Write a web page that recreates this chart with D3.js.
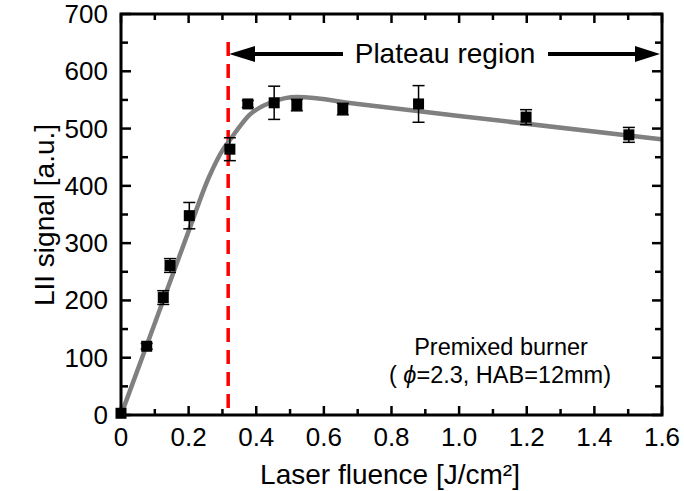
<!DOCTYPE html>
<html>
<head>
<meta charset="utf-8">
<script src="https://cdn.jsdelivr.net/npm/d3@7"></script>
<style>
  body { margin: 0; background: #fff; }
  svg { font-family: "Liberation Sans", Arial, sans-serif; }
</style>
</head>
<body>
<svg id="chart" width="684" height="491"></svg>
<script>
// measured points (fluence, signal, error)
const fluence = [0.0, 0.076, 0.125, 0.145, 0.202, 0.322, 0.375, 0.453, 0.52, 0.656, 0.88, 1.198, 1.502];
const signal  = [3, 120, 205, 261, 348, 464, 543, 545, 541, 534, 543, 520, 489];
const errBar  = [0, 5, 12, 12, 23, 20, 6, 29, 10, 10, 32, 13, 13];

// grey fit curve knots
const fitX = [0, 0.1, 0.2, 0.26, 0.3, 0.322, 0.38, 0.45, 0.52, 0.7, 1.0, 1.6];
const fitY = [0, 160, 321, 415, 462, 480, 524, 547, 555, 543, 522, 481];

const xTickVals = [0, 0.2, 0.4, 0.6, 0.8, 1.0, 1.2, 1.4, 1.6];
const xTickLabels = ["0", "0.2", "0.4", "0.6", "0.8", "1.0", "1.2", "1.4", "1.6"];
const yTickVals = [0, 100, 200, 300, 400, 500, 600, 700];
const plateauStart = 0.317;

const svg = d3.select("#chart");
const m = { left: 121, top: 14, right: 662, bottom: 415 };

const x = d3.scaleLinear().domain([0, 1.6]).range([m.left, m.right]);
const y = d3.scaleLinear().domain([0, 700]).range([m.bottom, m.top]);

const minorX = d3.range(0, 1.61, 0.1).map(v => +v.toFixed(2));
const minorY = d3.range(0, 701, 50);

// ticks on all four sides, pointing inward
const tickG = svg.append("g").attr("stroke", "#000").attr("stroke-width", 2.5);
minorX.forEach(v => {
    const len = xTickVals.some(t => Math.abs(t - v) < 1e-6) ? 9 : 6;
    tickG.append("line").attr("x1", x(v)).attr("x2", x(v)).attr("y1", m.bottom).attr("y2", m.bottom - len);
    tickG.append("line").attr("x1", x(v)).attr("x2", x(v)).attr("y1", m.top).attr("y2", m.top + len);
});
minorY.forEach(v => {
    const len = v % 100 === 0 ? 10 : 7;
    tickG.append("line").attr("x1", m.left).attr("x2", m.left + len).attr("y1", y(v)).attr("y2", y(v));
    tickG.append("line").attr("x1", m.right).attr("x2", m.right - len).attr("y1", y(v)).attr("y2", y(v));
});

// red dashed line marking plateau start
svg.append("line")
    .attr("x1", x(plateauStart)).attr("x2", x(plateauStart))
    .attr("y1", 42).attr("y2", m.bottom)
    .attr("stroke", "#ff0000")
    .attr("stroke-width", 3.5)
    .attr("stroke-dasharray", "14,8");

// fit curve
const fitData = fitX.map((v, i) => [v, fitY[i]]);
svg.append("path")
    .datum(fitData)
    .attr("fill", "none")
    .attr("stroke", "#808080")
    .attr("stroke-width", 4.5)
    .attr("d", d3.line().x(d => x(d[0])).y(d => y(d[1])).curve(d3.curveMonotoneX));

// error bars
const pts = fluence.map((f, i) => ({ f: f, s: signal[i], e: errBar[i] }));
const eb = svg.append("g").attr("stroke", "#000").attr("stroke-width", 1.5);
pts.filter(d => d.e > 0).forEach(d => {
    eb.append("line").attr("x1", x(d.f)).attr("x2", x(d.f)).attr("y1", y(d.s - d.e)).attr("y2", y(d.s + d.e));
    [d.s - d.e, d.s + d.e].forEach(v => {
        eb.append("line").attr("x1", x(d.f) - 6).attr("x2", x(d.f) + 6).attr("y1", y(v)).attr("y2", y(v));
    });
});

// square markers
svg.append("g").selectAll("rect")
    .data(pts)
    .enter().append("rect")
    .attr("x", d => x(d.f) - 5.5)
    .attr("y", d => y(d.s) - 5.5)
    .attr("width", 11)
    .attr("height", 11)
    .attr("fill", "#000");

// frame
svg.append("rect")
    .attr("x", m.left).attr("y", m.top)
    .attr("width", m.right - m.left).attr("height", m.bottom - m.top)
    .attr("fill", "none").attr("stroke", "#000").attr("stroke-width", 3);

// tick labels
svg.append("g").selectAll("text")
    .data(xTickVals)
    .enter().append("text")
    .attr("x", d => x(d))
    .attr("y", 446)
    .attr("text-anchor", "middle")
    .attr("font-size", 26)
    .text((d, i) => xTickLabels[i]);

svg.append("g").selectAll("text")
    .data(yTickVals)
    .enter().append("text")
    .attr("x", 108)
    .attr("y", d => y(d) + 9)
    .attr("text-anchor", "end")
    .attr("font-size", 26)
    .text(d => d);

// axis titles
svg.append("text")
    .attr("x", 390).attr("y", 484)
    .attr("text-anchor", "middle")
    .attr("font-size", 28)
    .text("Laser fluence [J/cm²]");

svg.append("text")
    .attr("transform", "translate(54,215) rotate(-90)")
    .attr("text-anchor", "middle")
    .attr("font-size", 28)
    .text("LII signal [a.u.]");

// plateau arrows
const arrowY = 54;
const ar = svg.append("g");
ar.append("line").attr("x1", 252).attr("x2", 343).attr("y1", arrowY).attr("y2", arrowY)
    .attr("stroke", "#000").attr("stroke-width", 4);
ar.append("path").attr("d", `M${x(plateauStart) + 1},${arrowY} L255,${arrowY - 8} L255,${arrowY + 8} Z`).attr("fill", "#000");
ar.append("line").attr("x1", 548).attr("x2", 638).attr("y1", arrowY).attr("y2", arrowY)
    .attr("stroke", "#000").attr("stroke-width", 4);
ar.append("path").attr("d", `M${m.right - 2},${arrowY} L635,${arrowY - 8} L635,${arrowY + 8} Z`).attr("fill", "#000");
svg.append("text")
    .attr("x", 445).attr("y", 63)
    .attr("text-anchor", "middle")
    .attr("font-size", 28)
    .text("Plateau region");

// annotation
svg.append("text")
    .attr("x", 501).attr("y", 355)
    .attr("text-anchor", "middle")
    .attr("font-size", 23.5)
    .text("Premixed burner");
const note = svg.append("text")
    .attr("x", 500).attr("y", 383)
    .attr("text-anchor", "middle")
    .attr("font-size", 23.5);
note.append("tspan").text("( ");
note.append("tspan").attr("font-style", "italic").text("\u03D5");
note.append("tspan").text("=2.3, HAB=12mm)");
</script>
</body>
</html>
